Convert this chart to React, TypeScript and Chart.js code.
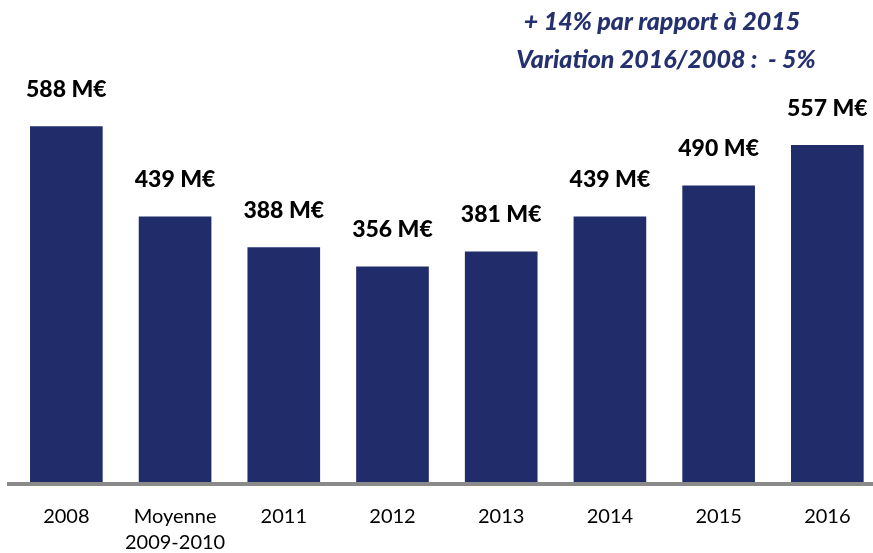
import React, { useEffect, useRef } from "react";
import { Chart, registerables } from "chart.js";

Chart.register(...registerables);

const categories: (string | string[])[] = [
  "2008",
  ["Moyenne", "2009-2010"],
  "2011",
  "2012",
  "2013",
  "2014",
  "2015",
  "2016",
];
const amounts: number[] = [588, 439, 388, 356, 381, 439, 490, 557];
const valueLabels: string[] = amounts.map((v) => `${v} M€`);
const headlines: string[] = ["+ 14% par rapport à 2015", "Variation 2016/2008 :  - 5%"];

const BAR = "#212d6b";
const NAVY_TEXT = "#25316f";

const overlay = {
  id: "overlay",
  afterDatasetsDraw(chart: any) {
    const ctx = chart.ctx;
    const area = chart.chartArea;
    ctx.save();
    ctx.strokeStyle = "#8a8a8a";
    ctx.lineWidth = 4;
    ctx.beginPath();
    ctx.moveTo(7, area.bottom + 2);
    ctx.lineTo(chart.width, area.bottom + 2);
    ctx.stroke();
    const meta = chart.getDatasetMeta(0);
    ctx.fillStyle = "#000";
    ctx.font = "900 23px Lato";
    ctx.textAlign = "center";
    ctx.textBaseline = "middle";
    meta.data.forEach((el: any, i: number) => {
      ctx.fillText(valueLabels[i], el.x, el.y - 37);
    });
    ctx.fillStyle = NAVY_TEXT;
    ctx.font = "italic 900 25px Lato";
    ctx.fillText(headlines[0], 662, 22);
    ctx.fillText(headlines[1], 666, 60);
    ctx.restore();
  },
};

export default function App() {
  const ref = useRef<HTMLCanvasElement>(null);
  useEffect(() => {
    if (!ref.current) return;
    const chart = new Chart(ref.current, {
      type: "bar",
      data: {
        datasets: [
          {
            data: amounts.map((v, i) => ({ x: i, y: v })),
            backgroundColor: BAR,
            barThickness: 72,
          },
        ],
      },
      options: {
        animation: false,
        responsive: true,
        maintainAspectRatio: false,
        layout: { padding: { left: 12, right: 0, top: 59, bottom: 0 } },
        plugins: { legend: { display: false }, tooltip: { enabled: false } },
        scales: {
          x: {
            type: "linear",
            offset: false,
            min: -0.5,
            max: 7.42,
            grid: { display: false, drawTicks: false },
            border: { display: false },
            afterBuildTicks: (scale: any) => {
              scale.ticks = categories.map((_, i) => ({ value: i }));
            },
            afterFit: (scale: any) => {
              scale.height = 71;
            },
            ticks: {
              autoSkip: false,
              maxRotation: 0,
              padding: 22,
              color: "#000",
              font: { family: "Lato", size: 20, lineHeight: 1.3 },
              callback: (v: any) => categories[Number(v)] ?? "",
            },
          },
          y: {
            display: false,
            min: 0,
            max: 700,
          },
        },
      },
      plugins: [overlay],
    });
    return () => chart.destroy();
  }, []);
  return (
    <div style={{ position: "absolute", left: 0, top: 0, width: 873, height: 553 }}>
      <canvas ref={ref} />
    </div>
  );
}
